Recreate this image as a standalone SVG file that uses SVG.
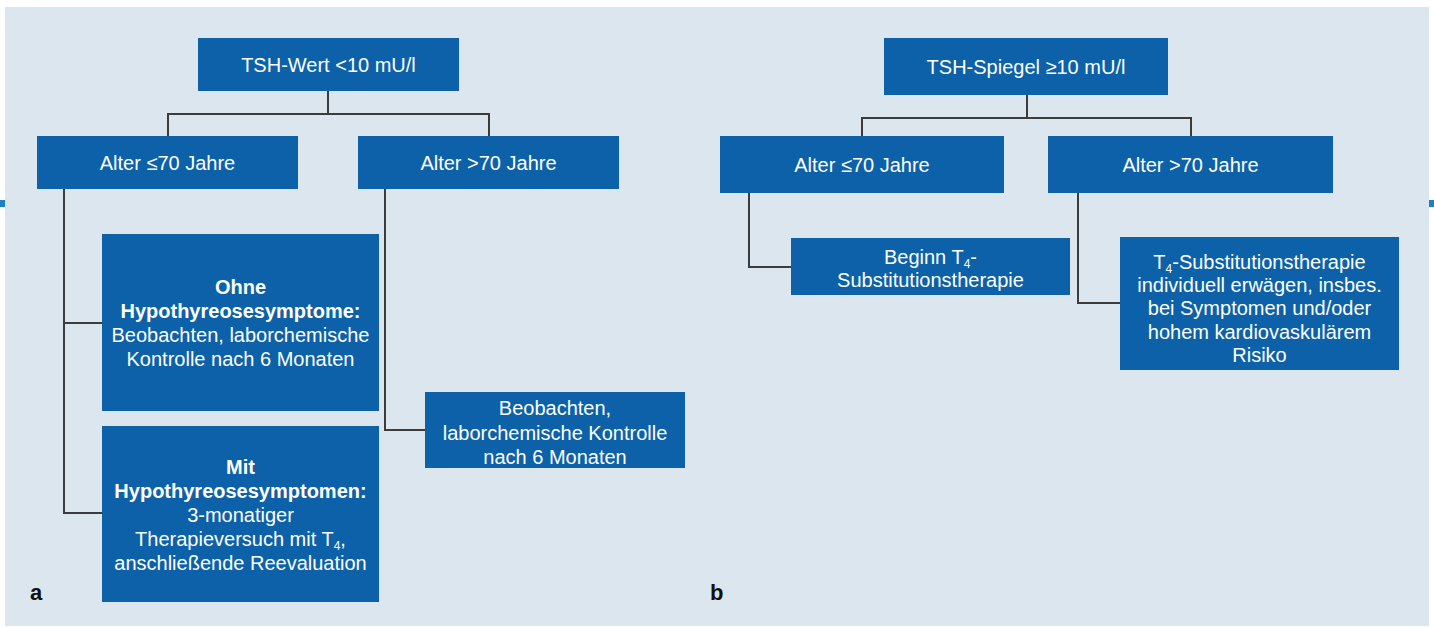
<svg xmlns="http://www.w3.org/2000/svg" width="1434" height="628" viewBox="0 0 1434 628">
<style>
.box{fill:#0c61a8;}
.t{font-family:"Liberation Sans",Arial,sans-serif;font-size:20px;fill:#ffffff;text-anchor:middle;}
.b{font-weight:bold;}
.conn{fill:none;stroke:#3c3c3c;stroke-width:2;}
.lbl{font-family:"Liberation Sans",Arial,sans-serif;font-size:22px;font-weight:bold;fill:#111111;}
.sub{font-size:12px;}
</style>
<rect x="0" y="0" width="1434" height="628" fill="#ffffff"/>
<rect x="5" y="7" width="1424" height="619" fill="#dce6ef"/>
<rect x="0" y="200" width="5" height="7" fill="#1a80c8"/>
<rect x="1429" y="200" width="5" height="7" fill="#1a80c8"/>
<g id="connectors">
<path class="conn" d="M328,91 V114 M168,136 V114 H489 V136"/>
<path class="conn" d="M64,189 V513 H102 M64,323 H102"/>
<path class="conn" d="M385,189 V430 H425"/>
<path class="conn" d="M1027,95 V118 M862,136 V118 H1191 V136"/>
<path class="conn" d="M749,193 V267 H791"/>
<path class="conn" d="M1078,193 V303 H1120"/>
</g>
<g id="n1"><rect class="box" x="198" y="38" width="261" height="53"/><text class="t" x="328.5" y="72">TSH-Wert &lt;10 mU/l</text></g>
<g id="n2"><rect class="box" x="37" y="136" width="261" height="53"/><text class="t" x="167.5" y="170">Alter ≤70 Jahre</text></g>
<g id="n3"><rect class="box" x="358" y="136" width="261" height="53"/><text class="t" x="488.5" y="170">Alter &gt;70 Jahre</text></g>
<g id="n4"><rect class="box" x="102" y="234" width="277" height="177"/>
<text class="t b" x="240.5" y="294">Ohne</text>
<text class="t b" x="240.5" y="318">Hypothyreosesymptome:</text>
<text class="t" x="240.5" y="342">Beobachten, laborchemische</text>
<text class="t" x="240.5" y="366">Kontrolle nach 6 Monaten</text></g>
<g id="n5"><rect class="box" x="102" y="426" width="277" height="176"/>
<text class="t b" x="240.5" y="474">Mit</text>
<text class="t b" x="240.5" y="498">Hypothyreosesymptomen:</text>
<text class="t" x="240.5" y="522">3-monatiger</text>
<text class="t" x="240.5" y="546">Therapieversuch mit T<tspan class="sub" dy="4">4</tspan><tspan dy="-4">,</tspan></text>
<text class="t" x="240.5" y="570">anschließende Reevaluation</text></g>
<g id="n6"><rect class="box" x="425" y="392" width="260" height="76"/>
<text class="t" x="555" y="415">Beobachten,</text>
<text class="t" x="555" y="440">laborchemische Kontrolle</text>
<text class="t" x="555" y="464">nach 6 Monaten</text></g>
<g id="n7"><rect class="box" x="884" y="38" width="284" height="57"/><text class="t" x="1026" y="74">TSH-Spiegel ≥10 mU/l</text></g>
<g id="n8"><rect class="box" x="720" y="136" width="284" height="57"/><text class="t" x="862" y="172">Alter ≤70 Jahre</text></g>
<g id="n9"><rect class="box" x="1048" y="136" width="285" height="57"/><text class="t" x="1190.5" y="172">Alter &gt;70 Jahre</text></g>
<g id="n10"><rect class="box" x="791" y="238" width="279" height="57"/>
<text class="t" x="930.5" y="264">Beginn T<tspan class="sub" dy="4">4</tspan><tspan dy="-4">-</tspan></text>
<text class="t" x="930.5" y="287">Substitutionstherapie</text></g>
<g id="n11"><rect class="box" x="1120" y="237" width="279" height="133"/>
<text class="t" x="1259.5" y="269">T<tspan class="sub" dy="4">4</tspan><tspan dy="-4">-Substitutionstherapie</tspan></text>
<text class="t" x="1259.5" y="292">individuell erwägen, insbes.</text>
<text class="t" x="1259.5" y="315">bei Symptomen und/oder</text>
<text class="t" x="1259.5" y="339">hohem kardiovaskulärem</text>
<text class="t" x="1259.5" y="362">Risiko</text></g>
<text class="lbl" x="30" y="600">a</text>
<text class="lbl" x="710" y="600">b</text>
</svg>
